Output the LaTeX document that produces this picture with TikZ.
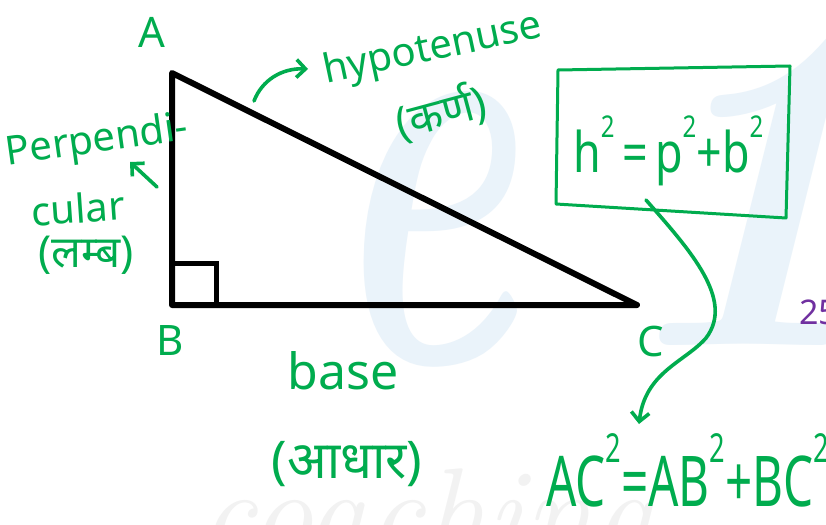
\documentclass[tikz,border=0pt]{standalone}
\usepackage{fontspec}
\usepackage{graphicx}
\usetikzlibrary{arrows.meta}
\newfontfamily\hand{Noto Sans}
\newfontfamily\deva[Script=Devanagari]{Noto Sans}
\definecolor{pen}{RGB}{0,172,78}
\definecolor{wmblue}{RGB}{234,243,250}
\definecolor{purp}{RGB}{112,48,160}
\newcommand\mysq[1]{\raisebox{0.62em}{\fontsize{#1}{#1}\selectfont 2}}
\begin{document}
\begin{tikzpicture}[x=1pt,y=-1pt,
  vlabel/.style={text=pen, inner sep=0pt, font=\hand\fontsize{42}{42}\selectfont},
  word/.style={text=pen, inner sep=0pt, font=\hand\fontsize{40}{40}\selectfont},
  hword/.style={text=pen, inner sep=0pt, font=\deva\fontsize{44}{44}\selectfont},
  penline/.style={draw=pen, line width=3.6pt, line cap=round, line join=round},
  penarrow/.style={penline, -{Straight Barb[length=9pt,width=18pt,line width=3.6pt]}},
  edge/.style={draw=black, line width=6pt, line join=round, line cap=round}]
\useasboundingbox (0,0) rectangle (826,524);
\fill[white] (0,0) rectangle (826,524);
% watermark
\node[text=wmblue, inner sep=0pt, anchor=base, font=\fontsize{600}{600}\selectfont\bfseries\itshape] (wme) at (420,362) {\scalebox{0.6}[1]{e}};
\node[text=wmblue, inner sep=0pt, anchor=base, font=\fontsize{470}{470}\selectfont\bfseries\itshape] (wmone) at (740,345) {1};
\node[text=black!5, inner sep=0pt, anchor=base west, font=\fontsize{125}{125}\selectfont\itshape] (wmc) at (200,555) {coaching};
% triangle
\coordinate (va) at (172,73);
\coordinate (vb) at (172,305);
\coordinate (vc) at (637,305);
\draw[edge] (va) -- (vb) -- (vc) -- cycle;
\coordinate (sq1) at (172,263);
\coordinate (sq2) at (216,263);
\coordinate (sq3) at (216,305);
\draw[draw=black, line width=5pt, line join=miter] (sq1) -- (sq2) -- (sq3);
% vertex labels
\node[vlabel] (A) at (152,32) {A};
\node[vlabel] (B) at (170,341) {B};
\node[vlabel] (C) at (651,342) {C};
% hypotenuse
\node[word, rotate=12] (hyp) at (433,50) {hypotenuse};
\coordinate (h1) at (254,101);
\coordinate (h2) at (308,69);
\draw[penarrow] (h1) .. controls (262,80) and (282,68) .. (h2);
\node[hword, rotate=15] (karn) at (441,112) {(कर्ण)};
% perpendicular
\node[word, rotate=8] (perp) at (97,142) {Perpendi-};
\node[word, rotate=4] (cul) at (78,208) {cular};
\coordinate (p1) at (157,187);
\coordinate (p2) at (130,162);
\draw[penarrow] (p1) -- (p2);
\node[hword] (lamb) at (86,255) {(लम्ब)};
% base
\node[word, font=\hand\fontsize{50}{50}\selectfont] (base) at (343,371) {base};
\node[hword, font=\deva\fontsize{52}{52}\selectfont] (adhar) at (347,464) {(आधार)};
% formula box
\coordinate (b1) at (558,70);
\coordinate (b2) at (790,66);
\coordinate (b3) at (786,218);
\coordinate (b4) at (556,204);
\draw[penline, line width=3pt] (b1) -- (b2) -- (b3) -- (b4) -- cycle;
\node[text=pen, inner sep=0pt, anchor=base west, font=\hand\fontsize{56}{56}\selectfont] (f1) at (573,172)
  {\scalebox{0.8}[1]{h\mysq{30}\,=\,p\mysq{30}+b\mysq{30}}};
% connector
\coordinate (c1) at (646,200);
\coordinate (c2) at (639,424);
\draw[penarrow] (c1) .. controls (690,250) and (735,300) .. (706,338)
  .. controls (685,362) and (645,372) .. (c2);
\node[text=pen, inner sep=0pt, anchor=base west, font=\hand\fontsize{70}{70}\selectfont] (f2) at (546,506)
  {\scalebox{0.68}[1]{AC\mysq{40}=AB\mysq{40}+BC\mysq{40}}};
% purple
\node[text=purp, inner sep=0pt, anchor=west, font=\hand\fontsize{34}{34}\selectfont] (pr) at (799,312) {25};
\end{tikzpicture}
\end{document}
